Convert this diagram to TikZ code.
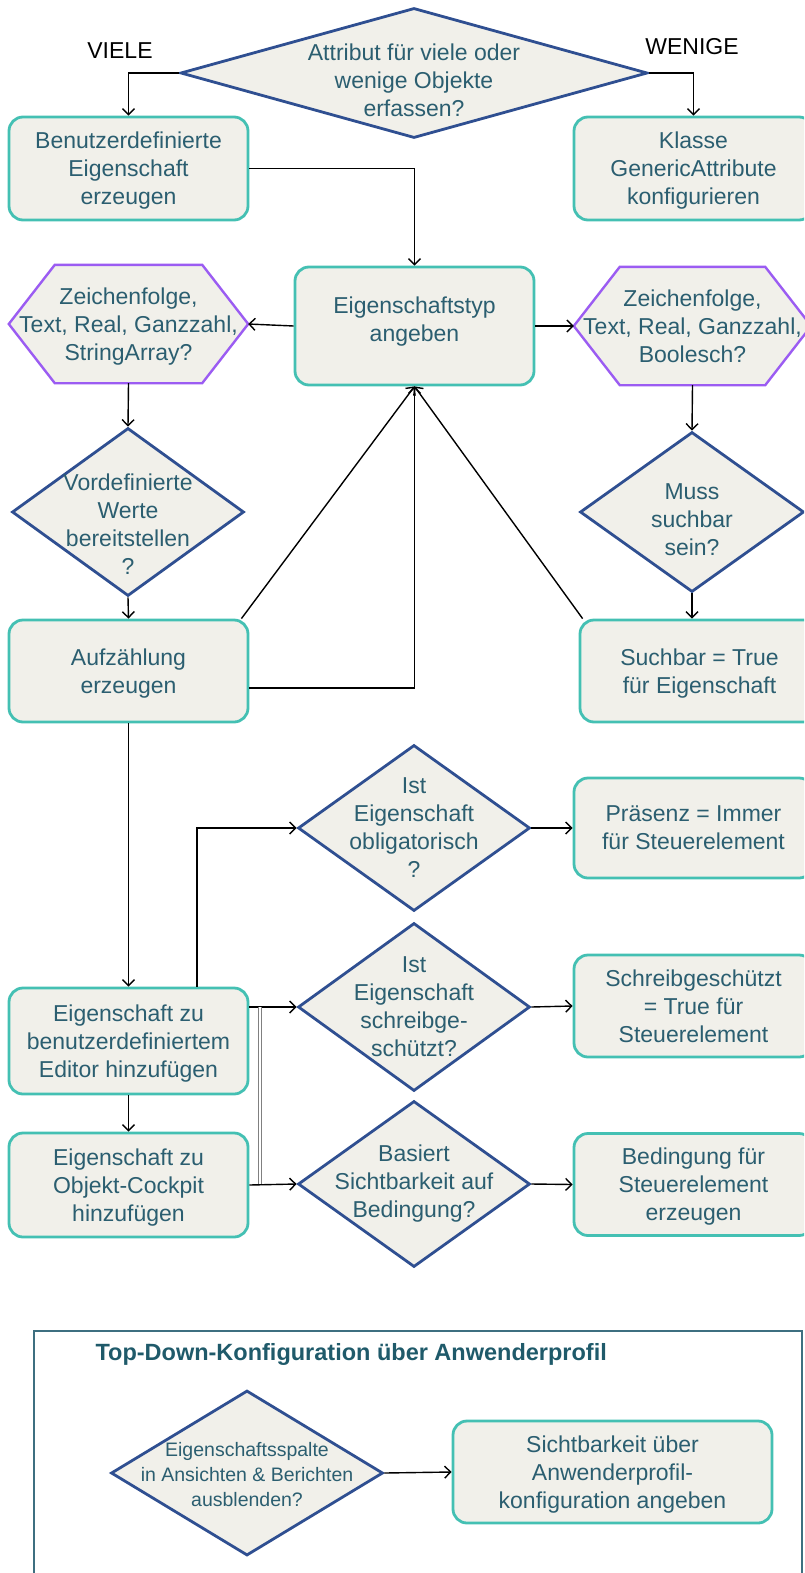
\documentclass[tikz,border=0pt]{standalone}
\usepackage{fontspec}
\usepackage{xcolor}
\usepackage{tikz}
\usetikzlibrary{shapes.geometric,arrows.meta,backgrounds}
\setmainfont{Liberation Sans}
\definecolor{boxfill}{HTML}{F1F0EA}
\definecolor{boxline}{HTML}{44C0B3}
\definecolor{qline}{HTML}{2F4F91}
\definecolor{hexline}{HTML}{9B5CF2}
\definecolor{qtext}{HTML}{2B5E70}
\definecolor{frameline}{HTML}{3E6F80}
\definecolor{titletext}{HTML}{1F5A6A}
\begin{document}
\begin{tikzpicture}[x=1pt,y=-1pt,
    txt/.style={text=qtext,align=center,font=\fontsize{23pt}{28pt}\selectfont},
    box/.style={txt,rectangle,rounded corners=14pt,draw=boxline,line width=2.8pt,fill=boxfill,
      minimum width=239pt,minimum height=102pt,inner sep=0pt,text depth=-4pt},
    ask/.style={diamond,draw=qline,line width=2.8pt,fill=boxfill,inner sep=0pt,
      minimum width=232pt,minimum height=166pt},
    hexa/.style={txt,rectangle,inner sep=0pt,minimum width=239pt,minimum height=118pt,text depth=-4pt},
    arr/.style={line width=1.4pt,-{Straight Barb[length=6pt,width=12pt]}}]
  \useasboundingbox (0,0) rectangle (804,1573);
  \clip (0,0) rectangle (804,1573);
  % obere Entscheidung
  \node[ask,minimum width=467pt,minimum height=130pt,
    label={[txt,yshift=-7pt]center:{Attribut für viele oder\\wenige Objekte\\erfassen?}}] (count) at (414,73) {};
  \node[font=\fontsize{23pt}{28pt}\selectfont] (many) at (120,51) {VIELE};
  \node[font=\fontsize{23pt}{28pt}\selectfont] (few) at (692,47) {WENIGE};
  \node[box,minimum height=103pt] (custom) at (128.5,168.5) {Benutzerdefinierte\\Eigenschaft\\erzeugen};
  \node[box,minimum height=103pt] (generic) at (693.5,168.5) {Klasse\\GenericAttribute\\konfigurieren};
  \node[box,minimum height=118pt,text depth=14pt] (ptype) at (414.5,326) {Eigenschaftstyp\\angeben};
  \node[hexa] (hexL) at (128.5,324) {Zeichenfolge,\\Text, Real, Ganzzahl,\\StringArray?};
  \node[hexa,minimum width=237pt] (hexR) at (692.5,326) {Zeichenfolge,\\Text, Real, Ganzzahl,\\Boolesch?};
  \begin{scope}[on background layer]
    \foreach \h in {hexL,hexR}
      \draw[hexline,line width=2.4pt,fill=boxfill] (\h.west) -- ([xshift=46pt]\h.north west)
        -- ([xshift=-46pt]\h.north east) -- (\h.east) -- ([xshift=-46pt]\h.south east)
        -- ([xshift=46pt]\h.south west) -- cycle;
  \end{scope}
  \node[ask,minimum height=168pt,label={[txt,yshift=-12pt]center:{Vordefinierte\\Werte\\bereitstellen\\?}}] (predef) at (128,512) {};
  \node[ask,minimum width=224pt,minimum height=160pt,label={[txt,yshift=-8pt]center:{Muss\\suchbar\\sein?}}] (search) at (692,512) {};
  \node[box] (enum) at (128.5,671) {Aufzählung\\erzeugen};
  \node[box] (searchok) at (699.5,671) {Suchbar = True\\für Eigenschaft};
  % Steuerelemente
  \node[ask,label={[txt]center:{Ist\\Eigenschaft\\obligatorisch\\?}}] (mandatory) at (414,828) {};
  \node[box,minimum height=100pt] (presence) at (693.5,828) {Präsenz = Immer\\für Steuerelement};
  \node[ask,minimum height=168pt,label={[txt]center:{Ist\\Eigenschaft\\schreibge-\\schützt?}}] (readonly) at (414,1007) {};
  \node[box] (readonlyok) at (693.5,1006) {Schreibgeschützt\\= True für\\Steuerelement};
  \node[box,minimum height=106pt] (editor) at (128.5,1041) {Eigenschaft zu\\benutzerdefiniertem\\Editor hinzufügen};
  \node[box,minimum height=104pt] (cockpit) at (128.5,1185) {Eigenschaft zu\\Objekt-Cockpit\\hinzufügen};
  \node[ask,label={[txt]center:{Basiert\\Sichtbarkeit auf\\Bedingung?}}] (visible) at (414,1184) {};
  \node[box] (condition) at (693.5,1184.5) {Bedingung für\\Steuerelement\\erzeugen};
  % Anwenderprofil
  \draw[frameline,line width=2pt] (34,1331) rectangle (802,1600);
  \node[anchor=west,text=titletext,font=\bfseries\fontsize{23.5pt}{28pt}\selectfont] (title) at (92,1354) {Top-Down-Konfiguration über Anwenderprofil};
  \node[ask,minimum width=272pt,minimum height=165pt,
    label={[txt,yshift=-2pt,font=\fontsize{19.5pt}{25pt}\selectfont]center:{Eigenschaftsspalte\\in Ansichten \& Berichten\\ausblenden?}}] (hide) at (247,1473) {};
  \node[box,minimum width=319pt] (profile) at (612.5,1472) {Sichtbarkeit über\\Anwenderprofil-\\konfiguration angeben};
  \draw[arr] (count.west) -| (custom.north);
  \draw[arr] (count.east) -| (generic.north);
  \draw[arr] (custom.east) -| (ptype.north);
  \draw[arr] (ptype.west) -- (hexL.east);
  \draw[arr] (ptype.east) -- (hexR.west);
  \draw[arr] (hexL.south) -- (predef.north);
  \draw[arr] (predef.south) -- (enum.north);
  \draw[arr] (hexR.south) -- (search.north);
  \draw[arr] (search.south) -- (search.south |- searchok.north);
  \draw[arr] ([xshift=-8pt]enum.north east) -- (ptype.south);
  \draw[arr] ([yshift=-17pt]enum.east) -| (ptype.south);
  \draw[arr] ([xshift=4pt]searchok.north west) -- (ptype.south);
  \draw[arr] (enum.south) -- (editor.north);
  \draw[arr] ([xshift=68.5pt]editor.north) |- (mandatory.west);
  \draw[arr] (editor.east |- readonly.west) -- (readonly.west);
  \draw[gray,line width=1pt,double,double distance=2pt] ([xshift=11pt]editor.east |- readonly.west) -- ([xshift=11pt]editor.east |- visible.west);
  \draw[arr] (editor.south) -- (cockpit.north);
  \draw[arr] (cockpit.east) -- (visible.west);
  \draw[arr] (mandatory.east) -- (presence.west);
  \draw[arr] (readonly.east) -- (readonlyok.west);
  \draw[arr] (visible.east) -- (condition.west);
  \draw[arr] (hide.east) -- (profile.west);
\end{tikzpicture}
\end{document}
